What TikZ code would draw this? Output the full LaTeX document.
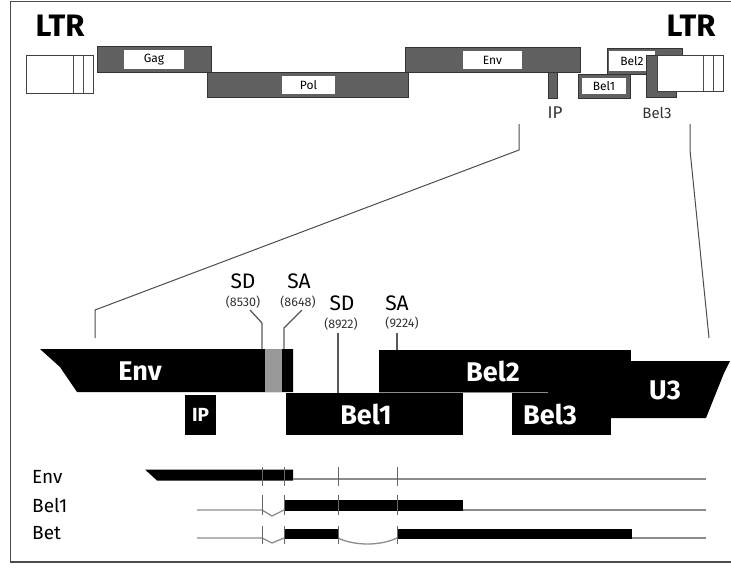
\documentclass[tikz,border=0pt]{standalone}
\usepackage{fontspec}
\setmainfont{Fira Sans}
\begin{document}
\begin{tikzpicture}[x=1pt,y=-1pt,
  tex/.style={fill=black!62,draw=black!80,line width=0.6pt,inner sep=0pt},
  wbox/.style={fill=white,draw=black!70,line width=0.6pt,inner sep=0pt,font=\fontsize{12}{12}\selectfont},
  ltrbox/.style={fill=white,draw=black!75,line width=1pt,inner sep=0pt},
  ltrtext/.style={font=\fontsize{31}{31}\selectfont\bfseries,inner sep=0pt},
  toplab/.style={font=\fontsize{15}{15}\selectfont,inner sep=0pt,text=black!80},
  blk/.style={fill=black,draw=none,inner sep=0pt},
  big/.style={text=white,font=\fontsize{27}{27}\selectfont\bfseries,inner sep=0pt},
  site/.style={font=\fontsize{21}{21}\selectfont,inner sep=0pt},
  posl/.style={font=\fontsize{12.5}{12.5}\selectfont,inner sep=0pt,text=black!80},
  zline/.style={draw=black!70,line width=1pt},
  sline/.style={draw=black!65,line width=1.3pt},
  trlab/.style={font=\fontsize{19}{19}\selectfont,inner sep=0pt,anchor=west},
  thinl/.style={draw=black!45,line width=1.3pt},
  tickl/.style={draw=black!60,line width=1pt}]
\useasboundingbox (0,0) rectangle (731,568);
% frame
\draw[black!70,line width=1.8pt] (740,1.5) -- (10.5,1.5) -- (10.5,562) -- (740,562);

% ---------- top genome map ----------
\node[ltrtext] (ltrL) at (60,26) {LTR};
\node[ltrtext] (ltrR) at (691,26) {LTR};
\node[ltrbox,minimum width=67pt,minimum height=38pt] (boxL) at (59.5,74) {};
\draw[black!70,line width=0.8pt] (73,55) -- (73,93) (83,55) -- (83,93);

\node[tex,minimum width=114pt,minimum height=26pt] (gag) at (154,59) {};
\node[wbox,draw=none,minimum width=60pt,minimum height=19pt] (gagl) at (154,59.5) {Gag};
\node[tex,minimum width=201pt,minimum height=25pt] (pol) at (307.5,84.5) {};
\node[wbox,draw=none,minimum width=53pt,minimum height=18pt] (poll) at (308.5,85) {Pol};
\node[tex,minimum width=175pt,minimum height=25pt] (env) at (492.5,59.5) {};
\node[wbox,draw=none,minimum width=59pt,minimum height=18pt] (envl) at (492.5,60) {Env};
\node[tex,minimum width=9pt,minimum height=26pt] (ips) at (552.5,85) {};
\node[toplab,font=\fontsize{17}{17}\selectfont] (ipl) at (555,113) {IP};
\node[tex,minimum width=52pt,minimum height=24pt] (bel1s) at (604,86) {};
\node[wbox,draw=none,minimum width=44pt,minimum height=16pt] (bel1l) at (604,86) {Bel1};
\node[tex,minimum width=75pt,minimum height=26pt] (bel2s) at (644.5,61) {};
\node[wbox,draw=none,minimum width=46pt,minimum height=20pt] (bel2l) at (632,61) {Bel2};
\node[tex,minimum width=30pt,minimum height=42pt] (bel3s) at (661,76) {};
\node[toplab] (bel3l) at (657,113) {Bel3};
\node[ltrbox,minimum width=66pt,minimum height=36pt] (boxR) at (690,73) {};
\draw[black!70,line width=0.8pt] (703,55) -- (703,91) (713,55) -- (713,91);

% ---------- zoom lines ----------
\coordinate (zl1) at (519,124);
\coordinate (zl2) at (519,150);
\coordinate (zl3) at (95,310);
\coordinate (zl4) at (95,338);
\coordinate (zr1) at (690,124);
\coordinate (zr2) at (690,150);
\coordinate (zr3) at (709,338);
\draw[zline] (zl1) -- (zl2) -- (zl3) -- (zl4);
\draw[zline] (zr1) -- (zr2) -- (zr3);

% ---------- enlarged region ----------
\fill[black] (620,361) -- (730,361) -- (724,373) -- (706,418) -- (600,418) -- (600,380) -- cycle;
\node[big] (u3) at (665,390) {U3};
\fill[black] (40,349) -- (293,349) -- (293,392) -- (77,392) -- (60,367) -- cycle;
\fill[black!40] (265,349) rectangle (282,392);
\node[big] (envb) at (140,371) {Env};
\node[blk,minimum width=252pt,minimum height=42pt] (bel2) at (505,371) {};
\node[big] (bel2t) at (493,371) {Bel2};
\node[blk,minimum width=99pt,minimum height=43pt] (bel3) at (561.5,413.5) {};
\node[big] (bel3t) at (550,414) {Bel3};
\node[blk,minimum width=177pt,minimum height=42pt] (bel1) at (374.5,414) {};
\node[big] (bel1t) at (366,414) {Bel1};
\node[blk,minimum width=31pt,minimum height=40pt] (ipb) at (200.5,415) {};
\node[big,font=\fontsize{19}{19}\selectfont\bfseries] (ipt) at (200.5,415) {IP};
\draw[black!45,line width=0.8pt] (379,392.5) -- (548,392.5);

% splice sites
\node[site] (sd1) at (243,281) {SD};
\node[posl] (sd1p) at (243,302) {(8530)};
\node[site] (sa1) at (299,281) {SA};
\node[posl] (sa1p) at (298,302) {(8648)};
\node[site] (sd2) at (342,303) {SD};
\node[posl] (sd2p) at (341,324) {(8922)};
\node[site] (sa2) at (397,303) {SA};
\node[posl] (sa2p) at (402,323) {(9224)};
\coordinate (s1) at (262,349);
\coordinate (s2) at (284,349);
\coordinate (s3) at (338,393);
\coordinate (s4) at (397,350);
\draw[sline] (s1) -- (262,323) -- (250,310);
\draw[sline] (s2) -- (284,328) -- (302,310);
\draw[sline] (s3) -- (338,333);
\draw[sline] (s4) -- (397,333);

% ---------- transcripts ----------
\node[trlab] (tenv) at (32,477) {Env};
\node[trlab] (tbel1) at (32,505) {Bel1};
\node[trlab] (tbet) at (32,533) {Bet};

% Env
\fill[black] (145,469.5) -- (293,469.5) -- (293,480.5) -- (157,480.5) -- cycle;
\draw[thinl] (293,479) -- (706,479);
% Bel1
\draw[thinl] (197,510) -- (262,510) -- (272,516) -- (284,510);
\fill[black] (285,500) rectangle (463,511);
\draw[thinl] (463,510) -- (706,510);
% Bet
\draw[thinl] (197,538) -- (262,538) -- (272,543) -- (284,538);
\fill[black] (285,529) rectangle (338,539);
\draw[thinl] (338,538) .. controls (355,546) and (380,546) .. (397,538);
\fill[black] (397,529) rectangle (632,539);
\draw[thinl] (632,538) -- (706,538);
% ticks
\foreach \x in {262,284,338,397} {
  \draw[tickl] (\x,467) -- (\x,486);
  \draw[tickl] (\x,495) -- (\x,515);
  \draw[tickl] (\x,526) -- (\x,544);
}
\end{tikzpicture}
\end{document}
